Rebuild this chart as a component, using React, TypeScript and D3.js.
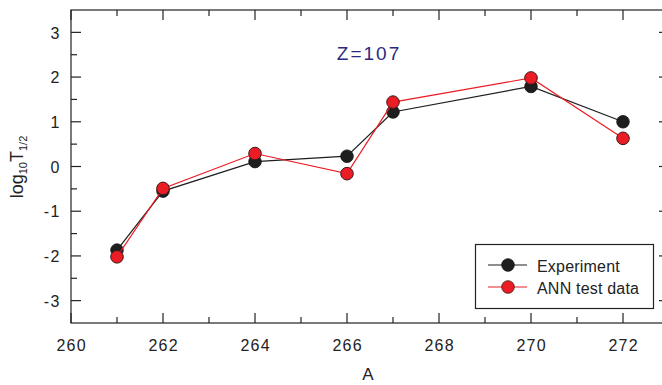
import React from "react";
import * as d3 from "d3";

const massNumbers = [261, 262, 264, 266, 267, 270, 272];
const experiment = [-1.87, -0.55, 0.11, 0.23, 1.22, 1.79, 1.0];
const annTest = [-2.02, -0.49, 0.29, -0.16, 1.44, 1.98, 0.63];
const xMajorTicks = [260, 262, 264, 266, 268, 270, 272];
const xMinorTicks = [261, 263, 265, 267, 269, 271, 273];
const yMajorTicks = [-3, -2, -1, 0, 1, 2, 3];
const yMinorTicks = [-2.5, -1.5, -0.5, 0.5, 1.5, 2.5];
const seriesNames = ["Experiment", "ANN test data"];
const titleText = "Z=107";

const FONT = "'Liberation Sans', Arial, Helvetica, sans-serif";

export default function App() {
  const W = 662, H = 385;
  const left = 71, right = 669, top = 10, bottom = 323;
  const x = d3.scaleLinear().domain([260, 273]).range([left, right]);
  const y = d3.scaleLinear().domain([-3.5, 3.5]).range([bottom, top]);
  const line = d3.line<[number, number]>().x(d => x(d[0])).y(d => y(d[1]));
  const expPts = massNumbers.map((m, i) => [m, experiment[i]] as [number, number]);
  const annPts = massNumbers.map((m, i) => [m, annTest[i]] as [number, number]);
  const axisColor = "#222";
  const major = 10, minor = 6;
  const black = "#1e1e1e";
  const red = "#ec1c24";
  const r = 6.3;

  return (
    <svg width={W} height={H} style={{ position: "absolute", left: 0, top: 0, background: "#fff" }} fontFamily={FONT}>
      <rect x={0} y={0} width={W} height={H} fill="#fff" />
      {/* frame */}
      <rect x={left} y={top} width={right - left} height={bottom - top} fill="none" stroke={axisColor} strokeWidth={1.2} />
      {/* x ticks */}
      {xMajorTicks.map(t => (
        <g key={"xM" + t}>
          <line x1={x(t)} x2={x(t)} y1={bottom} y2={bottom - major} stroke={axisColor} strokeWidth={1.2} />
          <line x1={x(t)} x2={x(t)} y1={top} y2={top + major} stroke={axisColor} strokeWidth={1.2} />
          <text x={x(t) + 0.6} y={351} textAnchor="middle" fontSize={16} letterSpacing={1.2} fill="#222">{t}</text>
        </g>
      ))}
      {xMinorTicks.map(t => (
        <g key={"xm" + t}>
          <line x1={x(t)} x2={x(t)} y1={bottom} y2={bottom - minor} stroke={axisColor} strokeWidth={1.2} />
          <line x1={x(t)} x2={x(t)} y1={top} y2={top + minor} stroke={axisColor} strokeWidth={1.2} />
        </g>
      ))}
      {/* y ticks */}
      {yMajorTicks.map(t => (
        <g key={"yM" + t}>
          <line x1={left} x2={left + major} y1={y(t)} y2={y(t)} stroke={axisColor} strokeWidth={1.2} />
          <line x1={right} x2={right - major} y1={y(t)} y2={y(t)} stroke={axisColor} strokeWidth={1.2} />
          <text x={60.5} y={y(t) + 6.2} textAnchor="end" fontSize={16} letterSpacing={1.2} fill="#222">{t < 0 ? "-" + Math.abs(t) : t}</text>
        </g>
      ))}
      {yMinorTicks.map(t => (
        <g key={"ym" + t}>
          <line x1={left} x2={left + minor} y1={y(t)} y2={y(t)} stroke={axisColor} strokeWidth={1.2} />
          <line x1={right} x2={right - minor} y1={y(t)} y2={y(t)} stroke={axisColor} strokeWidth={1.2} />
        </g>
      ))}
      {/* axis labels */}
      <text x={368} y={380} textAnchor="middle" fontSize={17} fill="#222">A</text>
      <text transform="translate(23,167) rotate(-90)" textAnchor="middle" fontSize={18} fill="#222">
        log<tspan fontSize={11} dy={4}>10</tspan><tspan dy={-4}>T</tspan><tspan fontSize={11} dy={4}>1/2</tspan>
      </text>
      {/* title */}
      <text x={369} y={60} textAnchor="middle" fontSize={19} letterSpacing={2} fill="#2b2a80">{titleText}</text>
      {/* series */}
      <path d={line(expPts) || ""} fill="none" stroke={black} strokeWidth={1.2} />
      {expPts.map((p, i) => (
        <circle key={"e" + i} cx={x(p[0])} cy={y(p[1])} r={r} fill={black} stroke="#111" strokeWidth={0.8} />
      ))}
      <path d={line(annPts) || ""} fill="none" stroke={red} strokeWidth={1.2} />
      {annPts.map((p, i) => (
        <circle key={"a" + i} cx={x(p[0])} cy={y(p[1])} r={r} fill={red} stroke="#3a1a1a" strokeWidth={1} />
      ))}
      {/* legend */}
      <rect x={475.5} y={244.5} width={178} height={64} fill="#fff" stroke={axisColor} strokeWidth={1.2} />
      {seriesNames.map((name, i) => {
        const ly = 265 + i * 22;
        const c = i === 0 ? black : red;
        return (
          <g key={name}>
            <line x1={488} x2={527} y1={ly} y2={ly} stroke={c} strokeWidth={1.2} />
            <circle cx={508} cy={ly} r={r} fill={c} stroke={i === 0 ? "#111" : "#3a1a1a"} strokeWidth={0.8} />
            <text x={537} y={ly + 7} fontSize={16} letterSpacing={0.2} fill="#222">{name}</text>
          </g>
        );
      })}
    </svg>
  );
}
